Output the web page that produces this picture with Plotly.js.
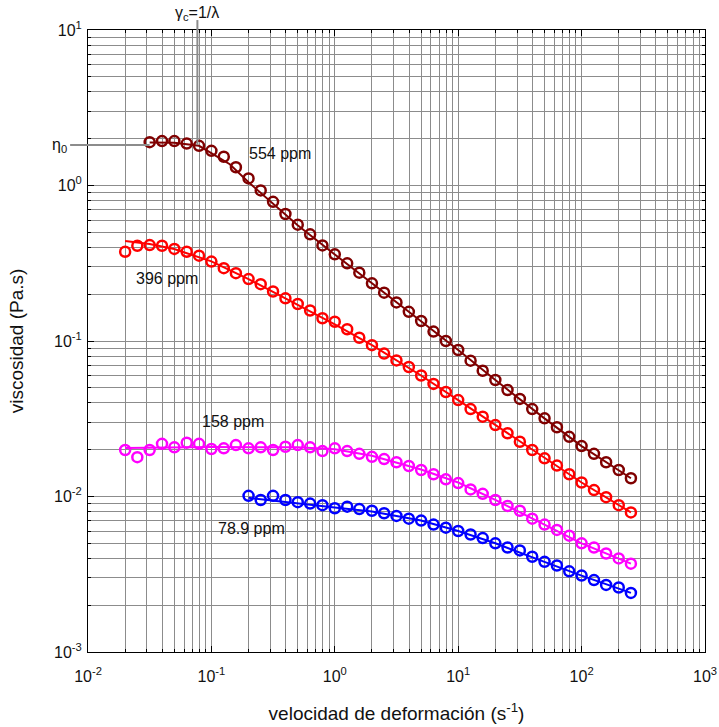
<!DOCTYPE html>
<html><head><meta charset="utf-8">
<script src="https://cdn.plot.ly/plotly-3.0.1.min.js"></script>
<style>html,body{margin:0;padding:0;background:#fff}</style>
</head><body><div id="chart" style="width:719px;height:727px"></div>
<script>
// ---- data (shear rate in s^-1, viscosity in Pa.s) ----
const rate554 = [0.0316,0.0398,0.0501,0.0631,0.0794,0.1,0.126,0.158,0.2,0.251,0.316,0.398,0.501,0.631,0.794,1,1.26,1.58,2,2.51,3.16,3.98,5.01,6.31,7.94,10,12.6,15.8,20,25.1,31.6,39.8,50.1,63.1,79.4,100,126,158,200,251];
const visc554 = [1.90,1.93,1.93,1.86,1.80,1.67,1.53,1.31,1.11,0.93,0.785,0.656,0.56,0.485,0.412,0.361,0.316,0.275,0.235,0.2045,0.177,0.154,0.1345,0.115,0.100,0.0875,0.0747,0.0644,0.0561,0.0484,0.0424,0.0365,0.0318,0.0279,0.0242,0.0211,0.0188,0.0166,0.0148,0.0131];

const rate396 = [0.02,0.0251,0.0316,0.0398,0.0501,0.0631,0.0794,0.1,0.126,0.158,0.2,0.251,0.316,0.398,0.501,0.631,0.794,1,1.26,1.58,2,2.51,3.16,3.98,5.01,6.31,7.94,10,12.6,15.8,20,25.1,31.6,39.8,50.1,63.1,79.4,100,126,158,200,251];
const visc396 = [0.375,0.410,0.414,0.410,0.391,0.375,0.354,0.324,0.294,0.273,0.250,0.232,0.208,0.188,0.173,0.157,0.140,0.133,0.119,0.105,0.094,0.083,0.075,0.068,0.060,0.053,0.047,0.0417,0.0365,0.0326,0.0288,0.0255,0.0225,0.0199,0.0176,0.0158,0.0139,0.0123,0.0110,0.0099,0.0088,0.0079];

const rate158 = [0.02,0.0251,0.0316,0.0398,0.0501,0.0631,0.0794,0.1,0.126,0.158,0.2,0.251,0.316,0.398,0.501,0.631,0.794,1,1.26,1.58,2,2.51,3.16,3.98,5.01,6.31,7.94,10,12.6,15.8,20,25.1,31.6,39.8,50.1,63.1,79.4,100,126,158,200,251];
const visc158 = [0.0199,0.0179,0.0199,0.0218,0.0207,0.0222,0.0218,0.0202,0.0204,0.0214,0.0204,0.0207,0.0199,0.0209,0.0214,0.0207,0.0196,0.0204,0.0196,0.0188,0.0180,0.0174,0.0166,0.0157,0.0148,0.0139,0.0129,0.0122,0.0111,0.0104,0.0095,0.0087,0.0081,0.0072,0.0066,0.0061,0.0056,0.0050,0.0047,0.0043,0.0040,0.0037];

const rate789 = [0.2,0.251,0.316,0.398,0.501,0.631,0.794,1,1.26,1.58,2,2.51,3.16,3.98,5.01,6.31,7.94,10,12.6,15.8,20,25.1,31.6,39.8,50.1,63.1,79.4,100,126,158,200,251];
const visc789 = [0.0101,0.0095,0.0101,0.0095,0.0092,0.0090,0.0088,0.0084,0.0086,0.0083,0.0081,0.0078,0.0075,0.0072,0.0070,0.0066,0.0063,0.0060,0.0057,0.0054,0.0050,0.0047,0.0045,0.0041,0.0038,0.0036,0.0033,0.0031,0.0029,0.0027,0.0026,0.0024];

// fitted model curves
const fitRate554 = [0.0316,0.05,0.0794,0.1,0.141,0.2,0.3,0.5,1,2,5,10,20,50,100,251];
const fitVisc554 = [1.89,1.88,1.80,1.62,1.37,1.05,0.795,0.555,0.36,0.235,0.1345,0.0875,0.0561,0.0318,0.0211,0.0131];
const fitRate396 = [0.02,0.0316,0.05,0.1,0.2,0.5,1,2,5,10,20,50,100,251];
const fitVisc396 = [0.44,0.42,0.39,0.325,0.25,0.172,0.128,0.094,0.060,0.0417,0.0288,0.0176,0.0123,0.0079];
const fitRate158 = [0.02,0.1,0.5,1,2,5,10,20,50,100,251];
const fitVisc158 = [0.0205,0.0208,0.0207,0.0201,0.0183,0.0149,0.0123,0.0095,0.0066,0.0050,0.0037];
const fitRate789 = [0.2,0.5,1,2,5,10,20,50,100,251];
const fitVisc789 = [0.0098,0.0090,0.0085,0.0080,0.0070,0.0060,0.0050,0.0038,0.0031,0.0024];

const eta0 = 1.82;      // zero-shear viscosity guide (554 ppm)
const gammaC = 0.077;   // critical shear rate 1/lambda

const xTickVals = [0.01,0.1,1,10,100,1000];
const xTickText = ['10<sup>-2</sup>','10<sup>-1</sup>','10<sup>0</sup>','10<sup>1</sup>','10<sup>2</sup>','10<sup>3</sup>'];
const yTickVals = [0.001,0.01,0.1,1,10];
const yTickText = ['10<sup>-3</sup>','10<sup>-2</sup>','10<sup>-1</sup>','10<sup>0</sup>','10<sup>1</sup>'];

const series = [
  {name:'554 ppm', x:rate554, y:visc554, fx:fitRate554, fy:fitVisc554, color:'#800000'},
  {name:'396 ppm', x:rate396, y:visc396, fx:fitRate396, fy:fitVisc396, color:'#ff0000'},
  {name:'158 ppm', x:rate158, y:visc158, fx:fitRate158, fy:fitVisc158, color:'#ff00ff'},
  {name:'78.9 ppm', x:rate789, y:visc789, fx:fitRate789, fy:fitVisc789, color:'#0000ff'}
];

const traces = [];
series.forEach(s => {
  traces.push({x:s.fx, y:s.fy, mode:'lines', line:{color:s.color, width:2}, showlegend:false, hoverinfo:'skip'});
  traces.push({x:s.x, y:s.y, mode:'markers', name:s.name, showlegend:false,
    marker:{symbol:'circle-open', size:10, color:s.color, line:{width:2.5, color:s.color}}});
});

function minorVals(lo, hi) {
  const out = [];
  for (let e = lo; e < hi; e++) for (let m = 2; m <= 9; m++) out.push(m * Math.pow(10, e));
  return out;
}
const xRange = [-2, 3], yRange = [-3, 1];
const px = v => (Math.log10(v) - xRange[0]) / (xRange[1] - xRange[0]);
const py = v => (Math.log10(v) - yRange[0]) / (yRange[1] - yRange[0]);

const fontFam = 'Liberation Sans, Arial, sans-serif';
const gridC = '#8c8c8c';
const axisBase = {
  type:'log', tickmode:'array', ticks:'inside', ticklen:6, tickwidth:1, tickcolor:'#000',
  showline:true, linecolor:'#000', linewidth:1, mirror:'allticks',
  showgrid:true, gridcolor:gridC, gridwidth:1, zeroline:false,
  tickfont:{family:fontFam, size:16, color:'#111'}
};

const layout = {
  width:719, height:727,
  margin:{l:88, r:14, t:30, b:75},
  paper_bgcolor:'#fff', plot_bgcolor:'#fff',
  font:{family:fontFam, color:'#111'},
  showlegend:false,
  xaxis: Object.assign({}, axisBase, {
    range:xRange, tickvals:xTickVals, ticktext:xTickText, ticklabelstandoff:10,
    minor:{tickmode:'array', tickvals:minorVals(-2,3), ticks:'inside', ticklen:3, tickcolor:'#000', showgrid:true, gridcolor:gridC, gridwidth:1},
    title:{text:'velocidad de deformación (s<sup>-1</sup>)', font:{family:fontFam, size:19, color:'#111'}, standoff:22}
  }),
  yaxis: Object.assign({}, axisBase, {
    range:yRange, tickvals:yTickVals, ticktext:yTickText, ticklabelstandoff:2,
    minor:{tickmode:'array', tickvals:minorVals(-3,1), ticks:'inside', ticklen:3, tickcolor:'#000', showgrid:true, gridcolor:gridC, gridwidth:1},
    title:{text:'viscosidad (Pa.s)', font:{family:fontFam, size:19, color:'#111'}, standoff:25}
  }),
  shapes:[
    {type:'line', xref:'paper', yref:'paper', x0:-0.029, x1:px(rate554[0]), y0:py(eta0), y1:py(eta0), line:{color:'#8c8c8c', width:2}, layer:'above'},
    {type:'line', xref:'paper', yref:'paper', x0:px(gammaC), x1:px(gammaC), y0:py(eta0), y1:1.016, line:{color:'#8c8c8c', width:2}, layer:'above'}
  ],
  annotations:[
    {xref:'x', yref:'y', x:-0.448, y:0.203, text:'554 ppm', showarrow:false, font:{size:16, family:fontFam, color:'#111'}},
    {xref:'x', yref:'y', x:-1.360, y:-0.601, text:'396 ppm', showarrow:false, font:{size:16, family:fontFam, color:'#111'}},
    {xref:'x', yref:'y', x:-0.825, y:-1.519, text:'158 ppm', showarrow:false, font:{size:16, family:fontFam, color:'#111'}},
    {xref:'x', yref:'y', x:-0.677, y:-2.203, text:'78.9 ppm', showarrow:false, font:{size:16, family:fontFam, color:'#111'}},
    {xref:'paper', yref:'paper', x:-0.031, y:py(eta0), xanchor:'right', yanchor:'middle', text:'η<sub>0</sub>', showarrow:false, font:{size:16, family:fontFam, color:'#111'}},
    {xref:'paper', yref:'paper', x:px(gammaC), y:1.026, xanchor:'center', yanchor:'middle', text:'γ<sub>c</sub>=1/λ', showarrow:false, font:{size:16, family:fontFam, color:'#111'}}
  ]
};

Plotly.newPlot('chart', traces, layout, {displayModeBar:false, staticPlot:true});
</script>
</body></html>
